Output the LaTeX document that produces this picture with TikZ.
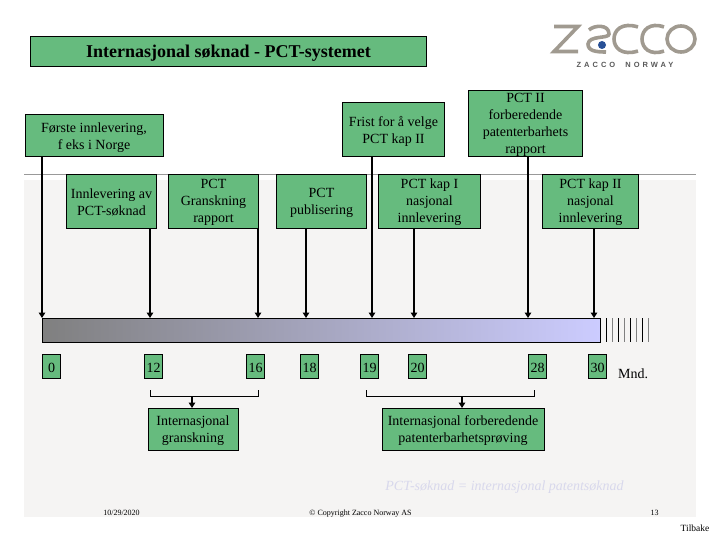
\documentclass[tikz,border=0pt]{standalone}
\usepackage{fontspec}
\setmainfont{Liberation Serif}
\newfontfamily\logofont[LetterSpace=40]{Liberation Sans}
\usetikzlibrary{arrows.meta}
\newcommand{\dnone}{\rule{0pt}{11.5pt}}
\newcommand{\dntwo}{\rule{0pt}{13.5pt}}
\definecolor{boxgreen}{RGB}{102,187,126}
\definecolor{pagegray}{RGB}{245,244,243}
\definecolor{logogray}{RGB}{160,154,144}
\definecolor{logoblue}{RGB}{40,80,150}
\definecolor{notecol}{RGB}{216,216,236}
\tikzset{
  x=1pt,y=-1pt,
  gbox/.style={draw=black,line width=1pt,fill=boxgreen,inner sep=0pt,align=center,anchor=north west,
    font=\fontsize{14}{17}\selectfont},
  numbox/.style={gbox,minimum width=18pt,minimum height=24pt},
  arr/.style={line width=2pt,-{Triangle[length=5.5pt,width=6.5pt]}},
  brk/.style={line width=1pt},
  tick/.style={line width=1pt},
  logostroke/.style={draw=logogray,line width=3.6pt},
  foot/.style={font=\fontsize{8}{9}\selectfont,inner sep=0pt,anchor=base}
}
\begin{document}
\begin{tikzpicture}
\useasboundingbox (0,0) rectangle (720,540);
\fill[white] (0,0) rectangle (720,540);
\fill[pagegray] (24,180) rectangle (696,516.5);
\draw[gray!80,line width=1pt] (24,174.5) -- (696,174.5);

% logo
\draw[logostroke] (554,26.5) -- (578,26.5) -- (554,51.5) -- (578,51.5);
\draw[logostroke] (589,30) .. controls (594,25) and (609,24) .. (609,34) .. controls (609,39) and (589,35) .. (588,44) .. controls (588,51) and (596,52) .. (606,52);
\fill[logoblue] (602,45) circle (4pt);
\draw[logostroke] (638,27) .. controls (622,22) and (614,30) .. (614,39) .. controls (614,48) and (622,56) .. (638,51);
\draw[logostroke] (664,27) .. controls (650,22) and (642,30) .. (642,39) .. controls (642,48) and (650,56) .. (664,51);
\draw[logostroke] (681,39) ellipse (14pt and 13pt);
\node[inner sep=0pt,text=black!65,font=\logofont\bfseries\fontsize{7.5}{9}\selectfont] (logotext) at (625,65) {ZACCO\ \ NORWAY};

% boxes
\node[gbox,minimum width=396pt,minimum height=30pt,font=\bfseries\fontsize{18}{21}\selectfont] (title) at (30,36) {\rule{0pt}{16pt}Internasjonal søknad - PCT-systemet};
\node[gbox,minimum width=138pt,minimum height=42pt] (first) at (24.5,114) {\dntwo Første innlevering,\\f eks i Norge};
\node[gbox,minimum width=102pt,minimum height=54pt] (frist) at (342,102) {\dntwo Frist for å velge\\PCT kap II};
\node[gbox,minimum width=114pt,minimum height=66pt] (pct2) at (468,90) {\dnone PCT II\\forberedende\\patenterbarhets\\rapport};
\node[gbox,minimum width=90pt,minimum height=54pt] (inn) at (66,174) {\dnone Innlevering av\\PCT-søknad};
\node[gbox,minimum width=90pt,minimum height=54pt] (gran) at (168,174) {\dnone PCT\\Granskning\\rapport};
\node[gbox,minimum width=90pt,minimum height=54pt] (publ) at (276,174) {\dnone PCT\\publisering};
\node[gbox,minimum width=102pt,minimum height=54pt] (kap1) at (378,174) {\dnone PCT kap I\\nasjonal\\innlevering};
\node[gbox,minimum width=96pt,minimum height=54pt] (kap2) at (542,174) {\dnone PCT kap II\\nasjonal\\innlevering};

% bar
\node[draw=black,line width=1pt,left color=gray,right color={rgb,255:red,204;green,204;blue,255},minimum width=558pt,minimum height=24pt,inner sep=0pt,anchor=north west] (bar) at (42,318) {};

% arrow targets on the bar
\coordinate (t0) at (42,318);
\coordinate (t1) at (150,318);
\coordinate (t2) at (258,318);
\coordinate (t3) at (306,318);
\coordinate (t4) at (372,318);
\coordinate (t5) at (414,318);
\coordinate (t6) at (528,318);
\coordinate (t7) at (594,318);
\draw[arr] (first.south -| t0) -- (t0);
\draw[arr] (inn.south -| t1) -- (t1);
\draw[arr] (gran.south -| t2) -- (t2);
\draw[arr] (publ.south -| t3) -- (t3);
\draw[arr] (frist.south -| t4) -- (t4);
\draw[arr] (kap1.south -| t5) -- (t5);
\draw[arr] (pct2.south -| t6) -- (t6);
\draw[arr] (kap2.south -| t7) -- (t7);

% ticks after the bar
\foreach \tx/\tc in {606/black,612/gray,618/black,624.5/gray,630/black,636/gray,642/black,648/gray}
  \draw[tick,draw=\tc] (\tx,318) -- (\tx,342);

% numbers
\node[numbox] (n0) at (42,354) {\dnone 0};
\node[numbox] (n12) at (144,354) {\dnone 12};
\node[numbox] (n16) at (246,354) {\dnone 16};
\node[numbox] (n18) at (300,354) {\dnone 18};
\node[numbox] (n19) at (360,354) {\dnone 19};
\node[numbox] (n20) at (408,354) {\dnone 20};
\node[numbox] (n28) at (528,354) {\dnone 28};
\node[numbox] (n30) at (588,354) {\dnone 30};
\node[inner sep=0pt,anchor=west,font=\fontsize{14}{17}\selectfont] (mnd) at (618,374) {Mnd.};

% lower boxes and brackets
\node[gbox,minimum width=90pt,minimum height=42pt] (ig) at (147.5,408) {\dnone Internasjonal\\granskning};
\node[gbox,minimum width=162pt,minimum height=42pt] (ipe) at (381.5,408) {\dnone Internasjonal forberedende\\patenterbarhetsprøving};
\coordinate (b1l) at (150.5,396);
\coordinate (b1r) at (258,396);
\coordinate (b1m) at (192,396);
\coordinate (b2l) at (366,396);
\coordinate (b2r) at (534,396);
\coordinate (b2m) at (462,396);
\draw[brk] ([yshift=6pt]b1l) -- (b1l) -- (b1r) -- ([yshift=6pt]b1r);
\draw[brk] ([yshift=6pt]b2l) -- (b2l) -- (b2r) -- ([yshift=6pt]b2r);
\draw[arr] (b1m) -- (ig.north -| b1m);
\draw[arr] (b2m) -- (ipe.north -| b2m);

% note and footer
\node[inner sep=0pt,text=notecol,font=\itshape\fontsize{14}{17}\selectfont] (note) at (504.5,487.5) {PCT-søknad = internasjonal patentsøknad};
\node[foot] (date) at (121.5,515) {10/29/2020};
\node[foot] (copy) at (360.5,515) {© Copyright Zacco Norway AS};
\node[foot] (page) at (654.5,515) {13};
\node[foot,font=\fontsize{9.5}{11}\selectfont,anchor=center] (back) at (695,528) {Tilbake};
\end{tikzpicture}
\end{document}
